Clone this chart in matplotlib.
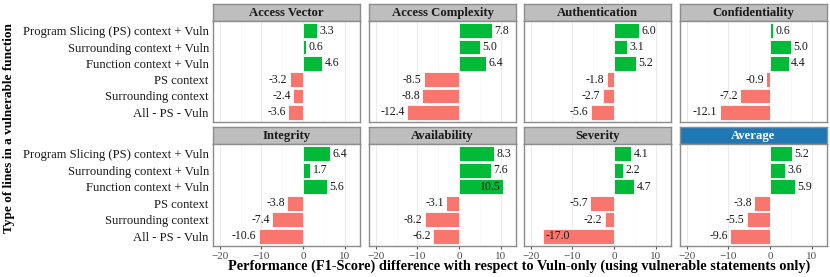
import numpy as np
import matplotlib
matplotlib.use("Agg")
import matplotlib.pyplot as plt

plt.rcParams["font.family"] = ["Liberation Serif", "DejaVu Serif"]

# data
categories = ["Program Slicing (PS) context + Vuln", "Surrounding context + Vuln",
              "Function context + Vuln", "PS context", "Surrounding context",
              "All - PS - Vuln"]
panels = ["Access Vector", "Access Complexity", "Authentication", "Confidentiality",
          "Integrity", "Availability", "Severity", "Average"]
access_vector = [3.3, 0.6, 4.6, -3.2, -2.4, -3.6]
access_complexity = [7.8, 5.0, 6.4, -8.5, -8.8, -12.4]
authentication = [6.0, 3.1, 5.2, -1.8, -2.7, -5.6]
confidentiality = [0.6, 5.0, 4.4, -0.9, -7.2, -12.1]
integrity = [6.4, 1.7, 5.6, -3.8, -7.4, -10.6]
availability = [8.3, 7.6, 10.5, -3.1, -8.2, -6.2]
severity = [4.1, 2.2, 4.7, -5.7, -2.2, -17.0]
average = [5.2, 3.6, 5.9, -3.8, -5.5, -9.6]
values = [access_vector, access_complexity, authentication, confidentiality,
          integrity, availability, severity, average]

GREEN = "#00BA38"
RED = "#F8766D"
STRIP_GREY = "#BEBEBE"
STRIP_BLUE = "#1F77B4"
BORDER = "#8C8C8C"

W, H = 830, 277
fig = plt.figure(figsize=(W / 100, H / 100), dpi=100)

col_left = [213, 369, 524, 680]
pw = 147
rows = [(4, 21, 122), (127, 144, 246)]  # strip top, plot top, plot bottom


def px_axes(x0, y0, x1, y1):
    return fig.add_axes([x0 / W, 1 - y1 / H, (x1 - x0) / W, (y1 - y0) / H])


y = np.arange(len(categories))
for i, (name, vals) in enumerate(zip(panels, values)):
    r, c = divmod(i, 4)
    st, pt, pb = rows[r]
    x0 = col_left[c]

    # strip
    sax = px_axes(x0, st, x0 + pw, pt)
    sax.set_xticks([])
    sax.set_yticks([])
    blue = name == "Average"
    sax.set_facecolor(STRIP_BLUE if blue else STRIP_GREY)
    for s in sax.spines.values():
        s.set_color(BORDER)
        s.set_linewidth(1.0)
    sax.text(0.5, 0.45, name, transform=sax.transAxes, ha="center", va="center",
             fontsize=9.2, weight="bold", color="white" if blue else "#1A1A1A")

    # panel
    ax = px_axes(x0, pt, x0 + pw, pb)
    vals = np.array(vals)
    colors = [GREEN if v > 0 else RED for v in vals]
    ax.barh(y, vals, height=0.9, color=colors, edgecolor="white", linewidth=0.6, zorder=2)
    ax.set_xlim(-21.6, 13.6)
    ax.set_ylim(len(categories) - 0.4, -0.6)
    ax.set_xticks([-20, -10, 0, 10])
    ax.set_xticks([-15, -5, 5], minor=True)
    ax.grid(axis="x", which="major", color="#EBEBEB", linewidth=0.8, zorder=0)
    ax.grid(axis="x", which="minor", color="#F5F5F5", linewidth=0.5, zorder=0)
    ax.tick_params(axis="x", which="minor", length=0)
    ax.tick_params(axis="x", which="major", length=2.5, color="#555555",
                   labelsize=8, labelcolor="#4D4D4D", pad=1.5)
    if r == 0:
        ax.tick_params(axis="x", labelbottom=False, length=0)
    ax.set_yticks(y)
    if c == 0:
        ax.set_yticklabels(categories, fontsize=9.1, color="#1A1A1A")
        ax.tick_params(axis="y", length=0, pad=3)
    else:
        ax.set_yticklabels([])
        ax.tick_params(axis="y", length=0)
    for s in ax.spines.values():
        s.set_color(BORDER)
        s.set_linewidth(1.0)

    for yi, v in zip(y, vals):
        inside = v > 10 or v < -15
        if v > 0:
            xt, ha = (v - 0.6, "right") if inside else (v + 0.6, "left")
        else:
            xt, ha = (v + 0.6, "left") if inside else (v - 0.6, "right")
        ax.text(xt, yi, f"{v:.1f}", ha=ha, va="center", fontsize=8.5,
                color="#1A1A1A", zorder=3)

fig.text(9 / W, 1 - 128 / H, "Type of lines in a vulnerable function", rotation=90,
         ha="center", va="center", fontsize=9.5, weight="bold")
fig.text(519 / W, 1 - 266 / H,
         "Performance (F1-Score) difference with respect to Vuln-only (using vulnerable statements only)",
         ha="center", va="center", fontsize=10.3, weight="bold")

fig.savefig("out.png", dpi=100, facecolor="white")
